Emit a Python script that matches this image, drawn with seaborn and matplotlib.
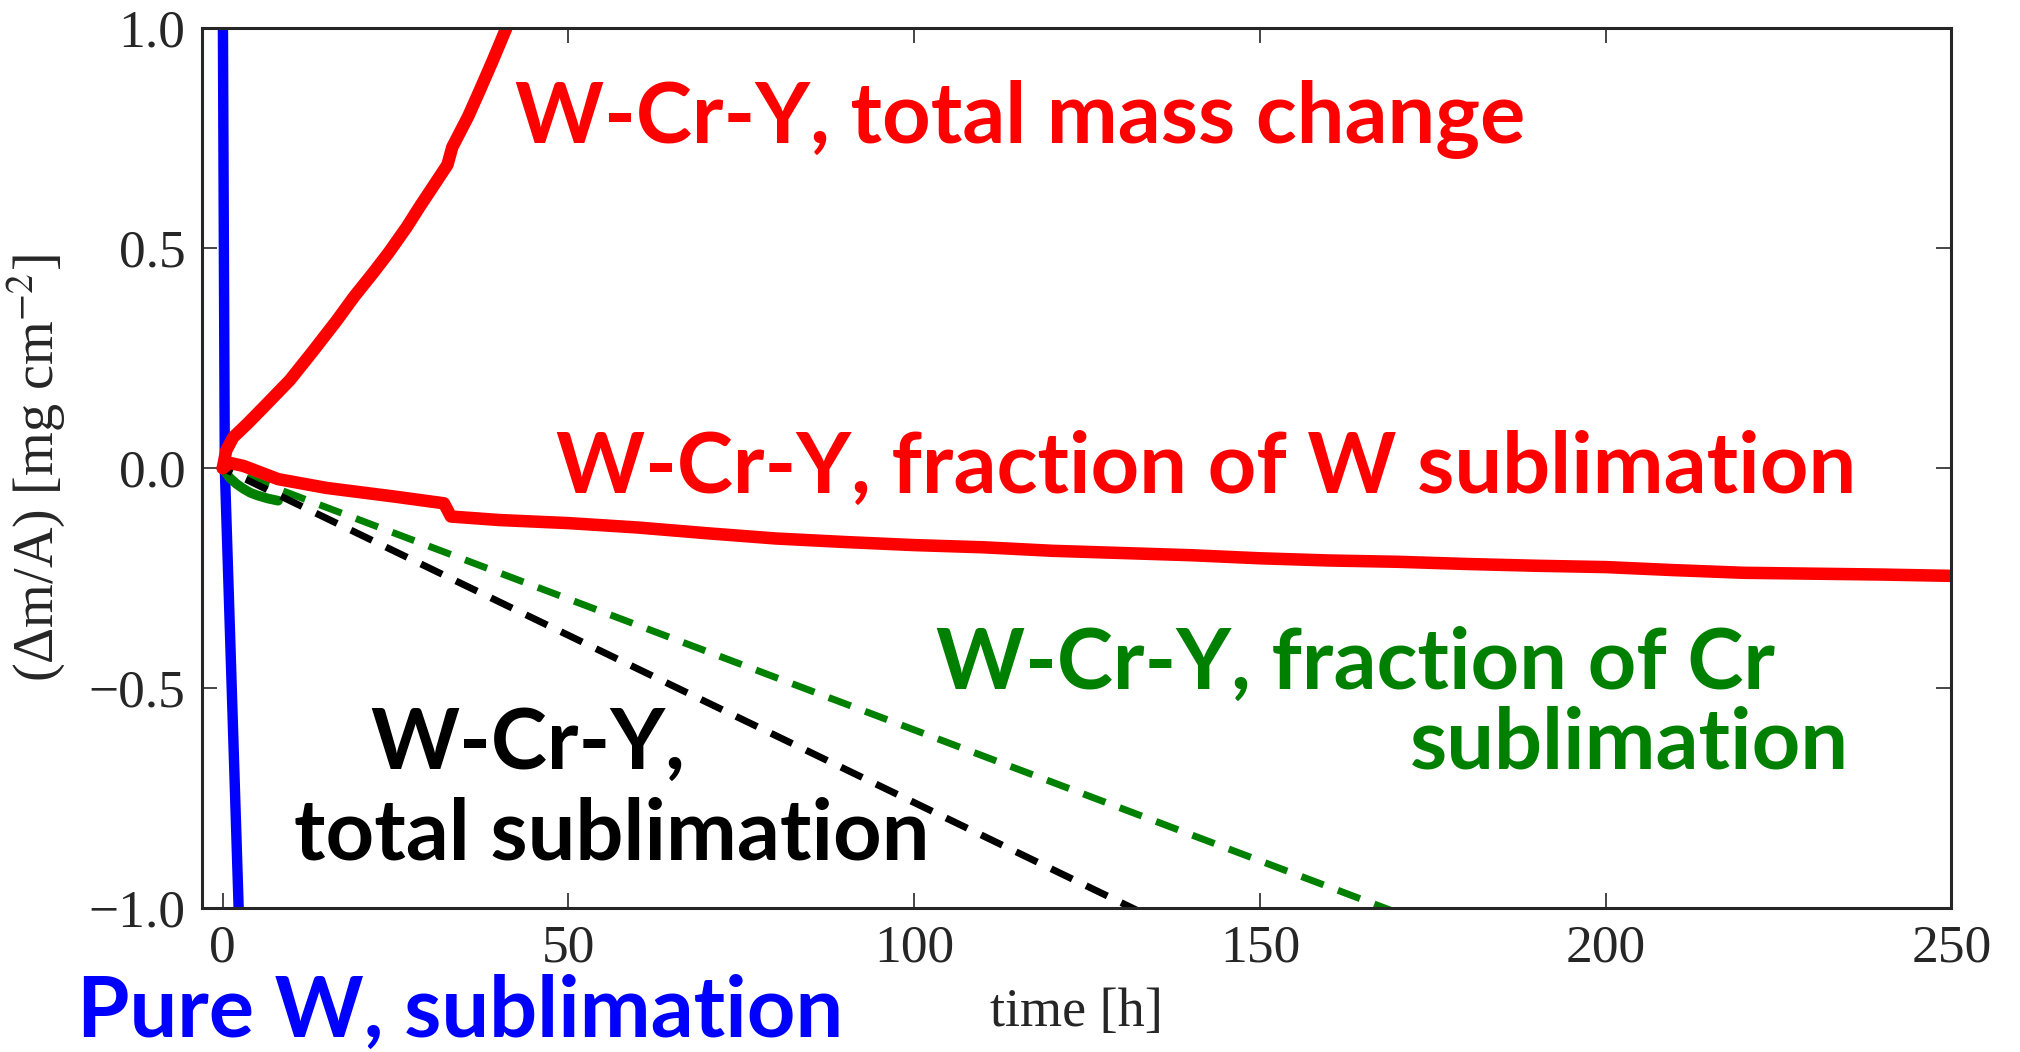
import matplotlib
matplotlib.use("Agg")
import matplotlib.pyplot as plt
import seaborn as sns

# pure W sublimation (steep drop)
w_pure_t = [0.0, 0.3, 2.5]
w_pure_dm = [1.1, 0.0, -1.1]

# W-Cr-Y total mass change
total_t = [0.0, 0.5, 1.5, 3.5, 6.0, 9.7, 13.0, 16.5, 19.0, 21.7, 24.0, 26.6, 28.5,
           30.4, 32.5, 33.2, 35.5, 37.2, 39.0, 41.0]
total_dm = [0.0, 0.04, 0.07, 0.10, 0.14, 0.20, 0.265, 0.336, 0.39, 0.443, 0.49, 0.548,
            0.595, 0.64, 0.69, 0.73, 0.80, 0.86, 0.925, 1.0]

# W-Cr-Y fraction of W sublimation
wfrac_t = [0.0, 1.0, 3.0, 8.0, 15.0, 25.0, 32.0, 33.0, 40.0, 50.0, 60.0, 70.0, 80.0,
           90.0, 100.0, 110.0, 120.0, 130.0, 140.0, 150.0, 160.0, 170.0, 180.0, 190.0,
           200.0, 210.0, 220.0, 230.0, 240.0, 250.0]
wfrac_dm = [0.0, 0.012, 0.005, -0.025, -0.045, -0.065, -0.08, -0.11, -0.118, -0.125,
            -0.135, -0.148, -0.16, -0.168, -0.175, -0.18, -0.188, -0.193, -0.198, -0.205,
            -0.21, -0.213, -0.218, -0.222, -0.225, -0.232, -0.238, -0.24, -0.242, -0.245]

# W-Cr-Y fraction of Cr sublimation: measured start + linear extrapolation
cr_meas_t = [0.0, 1.0, 2.0, 3.0, 4.0, 5.0, 6.5, 8.0]
cr_meas_dm = [0.0, -0.022, -0.036, -0.047, -0.056, -0.062, -0.069, -0.074]
cr_fit_t = [0.0, 168.0, 250.0]
cr_fit_dm = [0.0, -1.0, -1.488]

# W-Cr-Y total sublimation extrapolation
subl_t = [0.0, 131.5, 250.0]
subl_dm = [0.0, -1.0, -1.901]

xticks = [0, 50, 100, 150, 200, 250]
yticks = [-1.0, -0.5, 0.0, 0.5, 1.0]

sns.set_style("ticks")
plt.rcParams["font.family"] = ["Liberation Serif", "DejaVu Serif"]
plt.rcParams["mathtext.fontset"] = "stix"

fig = plt.figure(figsize=(20.2, 10.52), dpi=100)
ax = fig.add_axes([0.100, 0.137, 0.866, 0.836])

dash = (1.9, (3.4, 2.2))
sns.lineplot(x=w_pure_t, y=w_pure_dm, color="blue", linewidth=7.5, sort=False,
             estimator=None, ax=ax)
sns.lineplot(x=cr_meas_t, y=cr_meas_dm, color="green", linewidth=7, sort=False,
             estimator=None, ax=ax)
sns.lineplot(x=cr_fit_t, y=cr_fit_dm, color="green", linewidth=5, sort=False,
             estimator=None, ax=ax, dashes=False, linestyle=dash)
sns.lineplot(x=subl_t, y=subl_dm, color="black", linewidth=5, sort=False,
             estimator=None, ax=ax, dashes=False, linestyle=dash)
sns.lineplot(x=wfrac_t, y=wfrac_dm, color="red", linewidth=9, sort=False,
             estimator=None, ax=ax)
sns.lineplot(x=total_t, y=total_dm, color="red", linewidth=9, sort=False,
             estimator=None, ax=ax)

ax.set_xlim(-3, 250)
ax.set_ylim(-1.0, 1.0)
ax.set_xticks(xticks)
ax.set_yticks(yticks)
ax.set_yticklabels([f"{v:.1f}".replace("-", "\u2212") for v in yticks])
ax.tick_params(direction="in", length=11, width=1.2, labelsize=38.5, pad=12,
               top=True, right=True)
for sp in ax.spines.values():
    sp.set_linewidth(2.2)
    sp.set_visible(True)

ax.set_xlabel("time [h]", fontsize=39)
ax.set_ylabel("(\u0394m/A) [mg cm$^{-2}$]", fontsize=40.5)
ax.xaxis.set_label_coords(0.5, -0.09)
ax.yaxis.set_label_coords(-0.077, 0.5)

lab = dict(family=["Lato", "DejaVu Sans"], fontweight="bold", fontsize=61)
ax.text(42.3, 0.741, "W-Cr-Y, total mass change", color="red", va="baseline", **lab)
ax.text(48.2, -0.057, "W-Cr-Y, fraction of W sublimation", color="red",
        va="baseline", **lab)
ax.text(103.2, -0.502, "W-Cr-Y, fraction of Cr", color="green", va="baseline", **lab)
ax.text(235.2, -0.684, "sublimation", color="green", va="baseline", ha="right", **lab)
ax.text(21.3, -0.684, "W-Cr-Y,", color="black", va="baseline", **lab)
ax.text(10.3, -0.891, "total sublimation", color="black", va="baseline", **lab)
fig.text(0.038, 0.014, "Pure W, sublimation", color="blue", va="baseline", **lab)

if ax.get_legend() is not None:
    ax.get_legend().remove()

fig.savefig("out.png", dpi=100)
